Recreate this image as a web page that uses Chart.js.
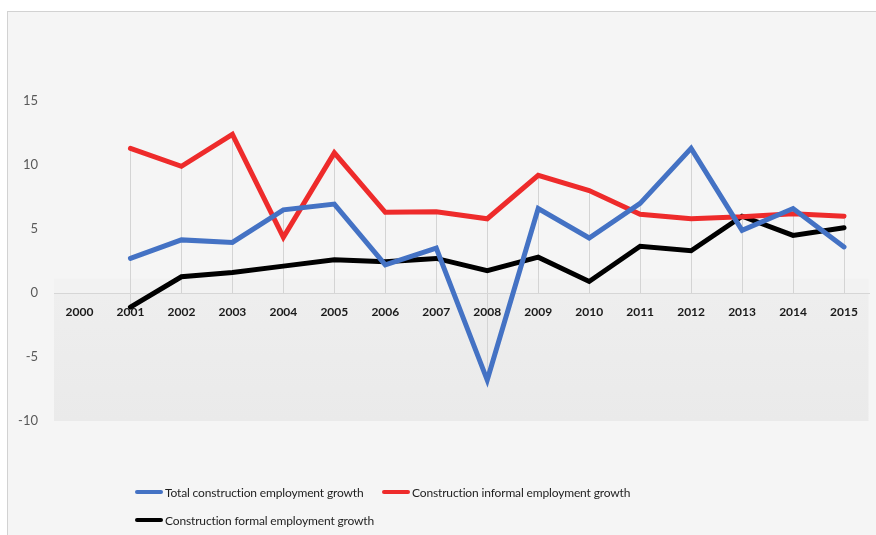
<!DOCTYPE html>
<html>
<head>
<meta charset="utf-8">
<script src="https://cdn.jsdelivr.net/npm/chart.js@4.4.1/dist/chart.umd.min.js"></script>
<style>
  html, body { margin: 0; padding: 0; background: #ffffff; }
  #wrap { position: relative; width: 876px; height: 535px; overflow: hidden; }
  #frame { position: absolute; left: 7px; top: 11px; width: 880px; height: 540px;
           background: #f5f5f5; border-top: 1px solid #d2d2d2; border-left: 1px solid #d2d2d2; }
  #c { position: absolute; left: 0; top: 0; }
  .lg { position: absolute; display: flex; align-items: center; font-family: Lato, "Open Sans", sans-serif;
        font-size: 12px; letter-spacing: -0.15px; color: #1e1e1e; white-space: nowrap; }
  .lg .mk { width: 28px; height: 4px; margin-right: 2px; border-radius: 2px; }
</style>
</head>
<body>
<div id="wrap">
  <div id="frame"></div>
  <canvas id="c" width="876" height="535"></canvas>
  <div id="legend"></div>
</div>
<script>
const years = ["2000","2001","2002","2003","2004","2005","2006","2007","2008","2009","2010","2011","2012","2013","2014","2015"];
const totalGrowth    = [null, 2.7, 4.15, 3.95, 6.5, 6.95, 2.2, 3.5, -6.8, 6.6, 4.3, 7.0, 11.3, 4.9, 6.6, 3.6];
const informalGrowth = [null, 11.3, 9.9, 12.4, 4.35, 10.95, 6.3, 6.35, 5.8, 9.2, 8.0, 6.15, 5.8, 5.95, 6.2, 6.0];
const formalGrowth   = [null, -1.1, 1.27, 1.6, 2.1, 2.6, 2.45, 2.7, 1.75, 2.8, 0.9, 3.65, 3.3, 6.0, 4.5, 5.1];
const seriesNames = ["Total construction employment growth", "Construction informal employment growth", "Construction formal employment growth"];
const seriesColors = ["#4472C4", "#EE2B2B", "#000000"];
const yTicks = [-10, -5, 0, 5, 10, 15];

const bgPlugin = {
  id: 'bgBands',
  beforeDraw(chart) {
    const {ctx, chartArea, scales} = chart;
    const y = scales.y, x = scales.x;
    if (!chartArea) return;
    ctx.save();
    const y0 = y.getPixelForValue(0), yMin = y.getPixelForValue(-10);
    const g = ctx.createLinearGradient(0, y0, 0, yMin);
    g.addColorStop(0, '#eeeeee');
    g.addColorStop(1, '#eaeaea');
    ctx.fillStyle = g;
    ctx.fillRect(chartArea.left, y0, chartArea.right - chartArea.left - 1, yMin - y0);
    const y1 = y.getPixelForValue(1.1);
    ctx.fillStyle = '#f2f2f2';
    ctx.fillRect(chartArea.left, y1, chartArea.right - chartArea.left - 1, y0 - y1);
    ctx.strokeStyle = '#d4d4d4';
    ctx.lineWidth = 1;
    const all = [totalGrowth, informalGrowth, formalGrowth];
    years.forEach((yr, i) => {
      const vals = all.map(a => a[i]).filter(v => v !== null);
      if (!vals.length) return;
      const hi = Math.max(0, ...vals), lo = Math.min(0, ...vals);
      const px = Math.round(x.getPixelForValue(i)) + 0.5;
      ctx.beginPath();
      ctx.moveTo(px, y.getPixelForValue(hi));
      ctx.lineTo(px, y.getPixelForValue(lo));
      ctx.stroke();
    });
    ctx.restore();
  }
};

const data = {
  labels: years,
  datasets: [totalGrowth, informalGrowth, formalGrowth].map((d, k) => ({
    label: seriesNames[k],
    data: d,
    borderColor: seriesColors[k],
    backgroundColor: seriesColors[k],
    borderWidth: 5,
    pointRadius: 0,
    tension: 0,
    fill: false,
    borderCapStyle: 'round',
    borderJoinStyle: 'miter'
  }))
};

new Chart(document.getElementById('c'), {
  type: 'line',
  data,
  plugins: [bgPlugin],
  options: {
    responsive: false,
    animation: false,
    events: [],
    layout: { padding: { top: 101, left: 0, right: 6.5, bottom: 114 } },
    plugins: { legend: { display: false }, tooltip: { enabled: false } },
    scales: {
      x: {
        type: 'category',
        offset: true,
        position: { y: 0 },
        grid: { display: false, drawTicks: false },
        border: { display: true, color: '#d6d6d6', width: 1 },
        ticks: { color: '#1a1a1a', padding: 12, maxRotation: 0, autoSkip: false,
                 font: { family: 'Lato, "Open Sans", sans-serif', size: 12, weight: 'bold' } }
      },
      y: {
        min: -10, max: 15,
        afterFit(s) { s.width = 54; },
        afterBuildTicks(s) { s.ticks = yTicks.map(v => ({ value: v })); },
        grid: { display: false, drawTicks: false },
        border: { display: false },
        ticks: { color: '#595959', padding: 16,
                 font: { family: 'Lato, "Open Sans", sans-serif', size: 13 } }
      }
    }
  }
});

const legendPos = [{left: 135, top: 492}, {left: 382, top: 492}, {left: 135, top: 520}];
const lg = document.getElementById('legend');
seriesNames.forEach((name, k) => {
  const d = document.createElement('div');
  d.className = 'lg';
  d.style.left = legendPos[k].left + 'px';
  d.style.top = (legendPos[k].top - 9) + 'px';
  d.style.height = '18px';
  const mk = document.createElement('span');
  mk.className = 'mk';
  mk.style.background = seriesColors[k];
  const t = document.createElement('span');
  t.textContent = name;
  d.appendChild(mk); d.appendChild(t);
  lg.appendChild(d);
});
</script>
</body>
</html>
